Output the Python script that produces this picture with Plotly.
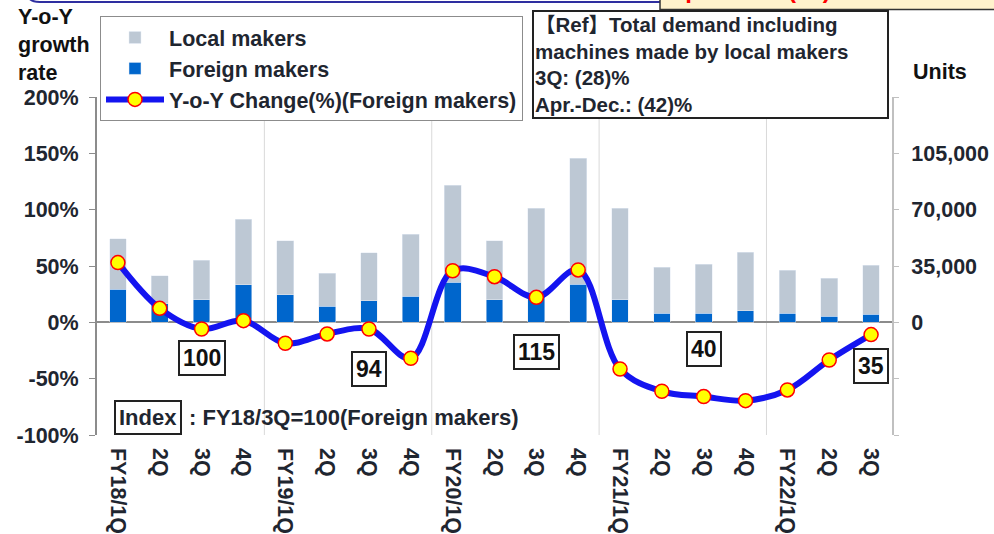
import plotly.graph_objects as go

# ---------------- data ----------------
quarters = ["FY18/1Q", "2Q", "3Q", "4Q", "FY19/1Q", "2Q", "3Q", "4Q",
            "FY20/1Q", "2Q", "3Q", "4Q", "FY21/1Q", "2Q", "3Q", "4Q",
            "FY22/1Q", "2Q", "3Q"]
local_makers = [31100, 17400, 24600, 40700, 33700, 20700, 29800, 38700,
                60400, 36600, 54800, 78000, 56900, 28500, 30600, 36300,
                26900, 23800, 30600]
foreign_makers = [20700, 11400, 14100, 23400, 17000, 9900, 13500, 16100,
                  24800, 14100, 16200, 23800, 14100, 5600, 5600, 7300,
                  5600, 3700, 5000]
yoy_foreign = [53.0, 12.4, -5.9, 1.5, -18.6, -10.3, -5.9, -31.9,
               45.8, 40.5, 22.2, 46.5, -41.4, -61.2, -65.9, -69.5,
               -60.0, -33.4, -10.9]
index_values = [100, 94, 115, 40, 35]
index_quarter = [2, 6, 10, 14, 18]
index_label_y = [-32, -41, -26, -24, -39]

pct_ticks = [-100, -50, 0, 50, 100, 150, 200]
pct_ticktext = ["-100%", "-50%", "0%", "50%", "100%", "150%", "200%"]
unit_ticks = [-70000, -35000, 0, 35000, 70000, 105000, 140000]
unit_ticktext = ["", "", "0", "35,000", "70,000", "105,000", ""]

x = list(range(len(quarters)))

# ---------------- geometry helpers (pixels -> paper) ----------------
W, H = 994, 534
L, R, T, B = 97, 892, 97, 435


def px_x(v):
    return (v - L) / (R - L)


def px_y(v):
    return (B - v) / (B - T)


TXT = "#1f2630"
FONT = "Liberation Sans, Arial, Noto Sans CJK JP, sans-serif"
FS = 21.5

fig = go.Figure()

fig.add_trace(go.Bar(
    x=x, y=foreign_makers, name="Foreign makers", marker_color="#0066CC",
    width=0.4, yaxis="y", legendrank=2, legendgroup="b"))
fig.add_trace(go.Bar(
    x=x, y=local_makers, name="Local makers", marker_color="#BDC8D4",
    width=0.4, yaxis="y", legendrank=1, legendgroup="a"))
fig.add_trace(go.Scatter(
    x=x, y=yoy_foreign, name="Y-o-Y Change(%)(Foreign makers)",
    mode="lines+markers", yaxis="y2", legendrank=3, legendgroup="c",
    line=dict(color="#1414F0", width=6, shape="spline", smoothing=1.0),
    marker=dict(size=14, color="#FFFF00", line=dict(color="#FF0000", width=1.5))))

shapes = []
for b in [3.5, 7.5, 11.5, 15.5]:
    shapes.append(dict(type="line", xref="x", yref="paper", x0=b, x1=b, y0=0, y1=1,
                       line=dict(color="#D9D9D9", width=1), layer="below"))

# decorative top frame remnants
shapes.append(dict(type="path", xref="paper", yref="paper",
                   path=f"M {px_x(28)},{px_y(-20)} L {px_x(28)},{px_y(-6)} "
                        f"Q {px_x(28)},{px_y(2)} {px_x(40)},{px_y(2)} L {px_x(662)},{px_y(2)}",
                   line=dict(color="#2E2EA0", width=2)))
shapes.append(dict(type="rect", xref="paper", yref="paper",
                   x0=px_x(660), x1=px_x(1000), y0=px_y(9.5), y1=px_y(-20),
                   fillcolor="#FFF2CC", line=dict(color="#333333", width=1.5)))

annotations = [
    dict(text="Apr.-Dec.: (45)%", xref="paper", yref="paper", x=px_x(666), y=px_y(5),
         xanchor="left", yanchor="bottom", showarrow=False,
         font=dict(size=24, color="#FF0000")),
    dict(text="Y-o-Y<br>growth<br>rate", xref="paper", yref="paper", x=px_x(16), y=px_y(45),
         xanchor="left", yanchor="middle", align="left", showarrow=False,
         font=dict(color="#111111")),
    dict(text="Units", xref="paper", yref="paper", x=px_x(911), y=px_y(72),
         xanchor="left", yanchor="middle", showarrow=False, font=dict(color="#111111")),
    dict(text="【Ref】Total demand including<br>machines made by local makers<br>3Q: (28)%<br>Apr.-Dec.: (42)%",
         xref="paper", yref="paper", x=px_x(532), y=px_y(10), xanchor="left", yanchor="top",
         align="left", showarrow=False, bgcolor="white", bordercolor="#222222",
         borderwidth=2, borderpad=1, width=351, font=dict(size=20.5)),
    dict(text="Index", xref="paper", yref="paper", x=px_x(148), y=px_y(417),
         xanchor="center", yanchor="middle", showarrow=False, bgcolor="white",
         bordercolor="#222222", borderwidth=2, borderpad=3, font=dict(size=22)),
    dict(text=": FY18/3Q=100(Foreign makers)", xref="paper", yref="paper", x=px_x(187), y=px_y(417),
         xanchor="left", yanchor="middle", showarrow=False, font=dict(size=22)),
]
for q, v, yy in zip(index_quarter, index_values, index_label_y):
    annotations.append(dict(text=str(v), x=q, y=yy, xref="x", yref="y2", showarrow=False,
                            bgcolor="white", bordercolor="#222222", borderwidth=2,
                            borderpad=3, font=dict(size=23, color="#111111")))

fig.update_layout(
    width=W, height=H,
    margin=dict(l=L, r=W - R, t=T, b=H - B, pad=0, autoexpand=False),
    paper_bgcolor="white", plot_bgcolor="white",
    font=dict(family=FONT, size=FS, color=TXT, weight="bold"),
    barmode="stack",
    showlegend=True,
    legend=dict(x=px_x(100), y=px_y(16), xanchor="left", yanchor="top",
                bgcolor="white", bordercolor="#8C8C8C", borderwidth=1,
                itemwidth=58, tracegroupgap=0, traceorder="grouped",
                font=dict(size=FS, color=TXT)),
    xaxis=dict(range=[-0.5, 18.5], tickvals=x, ticktext=quarters, tickangle=90,
               showgrid=False, zeroline=False, showline=False, ticks="",
               ticklabelstandoff=12),
    yaxis=dict(range=[-70000, 140000], tickvals=unit_ticks, ticktext=unit_ticktext,
               side="right", showgrid=False, zeroline=True, zerolinecolor="#8C8C8C",
               zerolinewidth=2, showline=True, linecolor="#C0C0C0", linewidth=2,
               ticks="outside", ticklen=5, tickcolor="#C0C0C0", ticklabelstandoff=8),
    yaxis2=dict(range=[-100, 200], tickvals=pct_ticks, ticktext=pct_ticktext,
                overlaying="y", side="left", showgrid=False, zeroline=False,
                showline=True, linecolor="#8C8C8C", linewidth=2,
                ticks="outside", ticklen=6, tickcolor="#8C8C8C", ticklabelstandoff=6),
    shapes=shapes,
    annotations=annotations,
)

fig.write_html("out.html", config={"displayModeBar": False},
               post_script="document.body.style.margin='0';document.body.style.overflow='hidden';")
